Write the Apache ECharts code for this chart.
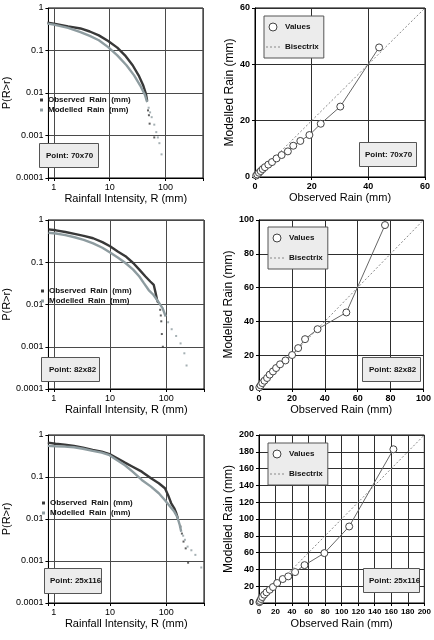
<!DOCTYPE html>
<html>
<head>
<meta charset="utf-8">
<script src="https://cdn.jsdelivr.net/npm/echarts@6/dist/echarts.min.js"></script>
<style>
html, body { margin: 0; padding: 0; background: #fff; }
#main { width: 434px; height: 640px; }
</style>
</head>
<body>
<div id="main"></div>
<script>
// exceedance curves, P(R>r) vs rainfall intensity (mm)
var obs70 = [[0.77,0.45],[1,0.43],[1.8,0.37],[3,0.33],[4.4,0.28],[6.4,0.227],[9.4,0.167],[13.7,0.117],[18.8,0.077],[25.8,0.045],[33,0.026],[40,0.015],[44.5,0.0097],[47,0.0065]];
var obsTail70 = [[48.6,0.0039],[50.5,0.003],[52,0.0019],[63,0.0009]];
var mod70 = [[0.77,0.43],[1,0.405],[1.8,0.34],[3,0.27],[4.4,0.22],[6.4,0.174],[9.4,0.12],[13.7,0.077],[20,0.045],[27.4,0.026],[35.3,0.015],[42.7,0.0091],[47,0.0061]];
var modTail70 = [[50,0.0045],[53,0.0035],[56.6,0.0027],[63,0.0018],[68.4,0.0012],[73,0.0009],[77.8,0.00066],[85,0.00036]];

var obs82 = [[0.8,0.6],[1.09,0.57],[1.6,0.52],[2.33,0.47],[3.4,0.42],[5,0.37],[7.3,0.3],[10,0.24],[13.7,0.18],[18.8,0.139],[25.8,0.096],[33.2,0.067],[42.7,0.046],[52,0.035],[60,0.029],[64,0.02],[68.6,0.0129],[72,0.011]];
var obsTail82 = [[78,0.0075],[80,0.0055],[81.6,0.004],[83.5,0.002],[87,0.001]];
var mod82 = [[0.8,0.5],[1.09,0.48],[1.6,0.44],[2.33,0.39],[3.4,0.34],[5,0.28],[7.3,0.22],[10,0.17],[13.7,0.13],[18.8,0.096],[25.8,0.067],[33.2,0.046],[40,0.032],[48.7,0.022],[59,0.017],[71,0.012],[86,0.0082],[98,0.0052]];
var modTail82 = [[108,0.0038],[125,0.0026],[150,0.0018],[180,0.0012],[210,0.0007],[230,0.00036]];

var obs25 = [[0.78,0.66],[1.07,0.62],[1.56,0.59],[2.28,0.55],[3.3,0.5],[4.9,0.44],[7.1,0.4],[9.8,0.35],[13.4,0.28],[18.4,0.22],[25.2,0.176],[36.7,0.134],[53.6,0.093],[73.7,0.071],[95,0.054],[108,0.037],[122,0.024],[139,0.018],[151,0.0137],[161,0.0104]];
var obsTail25 = [[179,0.0066],[190,0.0045],[203,0.0029],[222,0.002],[245,0.00091]];
var mod25 = [[0.78,0.55],[1.07,0.54],[1.56,0.53],[2.28,0.51],[3.3,0.47],[4.9,0.42],[7.1,0.38],[9.8,0.33],[13.4,0.25],[18.4,0.19],[25.2,0.134],[36.7,0.085],[53.6,0.059],[73.7,0.041],[95,0.028],[115,0.0205],[139,0.015],[158,0.011],[174,0.0072],[185,0.005]];
var modTail25 = [[200,0.004],[215,0.0032],[240,0.0022],[280,0.0018],[330,0.0014],[420,0.0007]];

// quantile plots, observed vs modelled rain (mm)
var qq70 = [[0.4,0.5],[0.8,0.9],[1.4,1.5],[2,2.1],[2.7,2.8],[3.5,3.5],[4.7,4.4],[6,5.3],[7.6,6.6],[9.4,7.8],[11.6,9.1],[13.5,11.1],[16,12.8],[19.2,14.9],[23.2,18.9],[30.1,25],[43.8,46]];
var qq82 = [[0.2,1],[1,2.2],[2,3.5],[3.3,4.9],[4.9,6.5],[6.5,8.5],[8.5,10.4],[10.4,12.4],[12.8,14.6],[16.1,16.9],[20.1,20.1],[23.8,24.2],[28,29.5],[35.6,35.4],[53.1,45.3],[76.6,97]];
var qq25 = [[0.5,1],[1.2,2.4],[2.4,4.8],[3.9,7.1],[6.3,9.9],[9.1,12.7],[13,15.8],[16.9,19],[22,23.8],[28.7,28.5],[35.4,31.7],[43.7,36.8],[55.1,45.1],[79.1,59.4],[109.1,91.1],[162.6,183]];
var bis70 = [[0,0],[60,60]];
var bis82 = [[0,0],[100,100]];
var bis25 = [[0,0],[200,200]];

var qqMax = [60, 100, 200];
var pointNames = ['Point: 70x70', 'Point: 82x82', 'Point: 25x116'];

var FONT = 'Liberation Sans';
var DARK = '#383838', LIGHT = '#8e9ca0';
var OBS = 'Observed Rain (mm)', MOD = 'Modelled Rain (mm)';
// dashed stroke for the legend, made of little bars
var DASH_ICON = 'path://M0,0h2v1h-2zM4,0h2v1h-2zM8,0h2v1h-2zM12,0h2v1h-2z';

var gridPos = [
    {left: 34, top: 8, width: 169, height: 170},
    {left: 255, top: 8, width: 170, height: 169},
    {left: 34, top: 220, width: 170, height: 169},
    {left: 259, top: 220, width: 169, height: 169},
    {left: 35, top: 435, width: 169, height: 168},
    {left: 259, top: 435, width: 169, height: 168}
];

function logLabel(v) {
    var e = Math.log10(v);
    return Math.abs(e - Math.round(e)) < 1e-6 ? String(+v.toPrecision(2)) : '';
}

var grids = [], xAxes = [], yAxes = [];
for (var i = 0; i < 6; i++) {
    var g = gridPos[i];
    grids.push({left: g.left, top: g.top, width: g.width, height: g.height,
        show: true, borderColor: '#000', borderWidth: 1, containLabel: false});
    var isLeft = i % 2 == 0;
    var row = Math.floor(i / 2);
    var common = {
        gridIndex: i,
        nameLocation: 'middle',
        axisLine: {show: true, lineStyle: {color: '#000', width: 1}},
        axisTick: {show: true, inside: false, length: 3, lineStyle: {color: '#000'}},
        splitLine: {show: true, lineStyle: {color: isLeft ? '#4a4a4a' : '#2e2e2e', width: 1}},
        axisLabel: {color: '#000', fontSize: 9, fontFamily: FONT},
        nameTextStyle: {color: '#000', fontFamily: FONT}
    };
    if (isLeft) {
        xAxes.push(Object.assign({}, common, {
            type: 'log', logBase: 10, min: 0.8, max: 470,
            name: 'Rainfall Intensity, R (mm)', nameGap: 15,
            nameTextStyle: {color: '#000', fontFamily: FONT, fontSize: 11},
            axisLabel: {color: '#000', fontSize: 9, fontFamily: FONT, margin: 5, formatter: logLabel}
        }));
        yAxes.push(Object.assign({}, common, {
            type: 'log', logBase: 10, min: 0.0001, max: 1,
            name: 'P(R>r)', nameGap: 20,
            nameTextStyle: {color: '#000', fontFamily: FONT, fontSize: 11},
            axisLabel: {color: '#000', fontSize: 9, fontFamily: FONT, margin: 5, formatter: logLabel}
        }));
    } else {
        xAxes.push(Object.assign({}, common, {
            type: 'value', min: 0, max: qqMax[row], interval: 20,
            name: 'Observed Rain (mm)', nameGap: 15,
            nameTextStyle: {color: '#000', fontFamily: FONT, fontSize: 11},
            axisLabel: {color: '#000', fontSize: row == 2 ? 8 : 9, fontWeight: 'bold', fontFamily: FONT, margin: 5}
        }));
        yAxes.push(Object.assign({}, common, {
            type: 'value', min: 0, max: qqMax[row], interval: 20,
            name: 'Modelled Rain (mm)', nameGap: row == 0 ? 18 : 21,
            nameTextStyle: {color: '#000', fontFamily: FONT, fontSize: 12},
            axisLabel: {color: '#000', fontSize: 9, fontWeight: 'bold', fontFamily: FONT, margin: 5}
        }));
    }
}

var cdfSets = [
    [obs70, obsTail70, mod70, modTail70],
    [obs82, obsTail82, mod82, modTail82],
    [obs25, obsTail25, mod25, modTail25]
];
var qqSets = [[qq70, bis70], [qq82, bis82], [qq25, bis25]];

var series = [];
for (var r = 0; r < 3; r++) {
    var li = r * 2, ri = r * 2 + 1;
    var s = cdfSets[r];
    // dense parts drawn as lines, the sparse tails as dots
    series.push({name: OBS, type: 'line', xAxisIndex: li, yAxisIndex: li, data: s[0],
        symbol: 'none', itemStyle: {color: DARK}, lineStyle: {color: DARK, width: 2.4}, z: 3});
    series.push({name: OBS, type: 'scatter', xAxisIndex: li, yAxisIndex: li, data: s[1],
        symbol: 'rect', symbolSize: 2, itemStyle: {color: DARK}, z: 3});
    series.push({name: MOD, type: 'line', xAxisIndex: li, yAxisIndex: li, data: s[2],
        symbol: 'none', itemStyle: {color: LIGHT}, lineStyle: {color: LIGHT, width: 2.4}, z: 4});
    series.push({name: MOD, type: 'scatter', xAxisIndex: li, yAxisIndex: li, data: s[3],
        symbol: 'rect', symbolSize: 2, itemStyle: {color: LIGHT}, z: 4});

    var q = qqSets[r];
    series.push({name: 'Bisectrix', type: 'line', xAxisIndex: ri, yAxisIndex: ri, data: q[1],
        symbol: 'none', itemStyle: {color: '#888'}, lineStyle: {color: '#888', width: 1, type: [2, 2]}, z: 3});
    series.push({name: 'Values', type: 'line', xAxisIndex: ri, yAxisIndex: ri, data: q[0],
        symbol: 'circle', symbolSize: 7, showAllSymbol: true,
        itemStyle: {color: '#fff', borderColor: '#444', borderWidth: 1},
        lineStyle: {color: '#666', width: 1}, z: 4});
}

var legendPos = [[40, 95], [41, 286], [42, 498]];
var qqLegendPos = [[264, 16], [268, 227], [268, 443]];
var legends = [];
for (var r = 0; r < 3; r++) {
    legends.push({
        left: legendPos[r][0], top: legendPos[r][1], orient: 'vertical',
        padding: 0, itemGap: 0, itemWidth: 3, itemHeight: 3, selectedMode: false,
        data: [{name: OBS, icon: 'rect'}, {name: MOD, icon: 'rect'}],
        formatter: function(n) { return n.replace(/ /g, '  '); },
        textStyle: {fontSize: 8, fontWeight: 'bold', lineHeight: 10, color: '#111', fontFamily: FONT}
    });
    legends.push({
        left: qqLegendPos[r][0], top: qqLegendPos[r][1], orient: 'vertical',
        padding: [6, 5, 6, 2], itemGap: 10, itemWidth: 14, itemHeight: 8, selectedMode: false,
        backgroundColor: '#ececec', borderColor: '#555', borderWidth: 1,
        data: [
            {name: 'Values', icon: 'circle', itemStyle: {color: '#fff', borderColor: '#444', borderWidth: 1}},
            {name: 'Bisectrix', icon: DASH_ICON, itemStyle: {color: '#888', borderWidth: 0}}
        ],
        textStyle: {fontSize: 8, fontWeight: 'bold', lineHeight: 10, color: '#111', fontFamily: FONT}
    });
}

// "Point: ..." boxes
var boxPos = [
    [39, 143, [8, 6, 7, 7]], [359, 142, [8, 5, 7, 6]],
    [41, 357, [8, 4, 7, 8]], [362, 357, [8, 5, 7, 7]],
    [44, 568, [8, 1, 8, 6]], [363, 568, [8, 0, 7, 6]]
];
var titles = [];
for (var i = 0; i < 6; i++) {
    titles.push({
        text: pointNames[Math.floor(i / 2)], left: boxPos[i][0], top: boxPos[i][1],
        padding: boxPos[i][2], backgroundColor: '#ececec', borderColor: '#555', borderWidth: 1,
        textStyle: {fontSize: 8, fontWeight: 'bold', lineHeight: 10, color: '#111', fontFamily: FONT}
    });
}

var myChart = echarts.init(document.getElementById('main'));
myChart.setOption({
    animation: false,
    backgroundColor: '#fff',
    textStyle: {fontFamily: FONT},
    title: titles,
    legend: legends,
    grid: grids,
    xAxis: xAxes,
    yAxis: yAxes,
    series: series
});
</script>
</body>
</html>
